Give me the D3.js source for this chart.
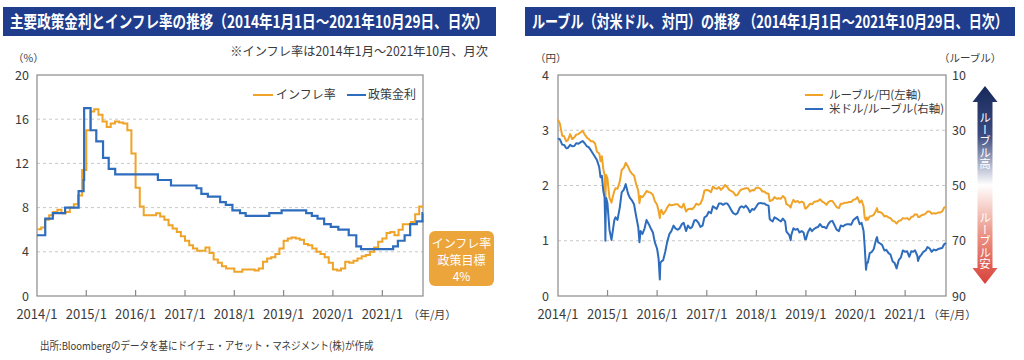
<!DOCTYPE html>
<html><head><meta charset="utf-8">
<script src="https://cdn.jsdelivr.net/npm/d3@7"></script>
<style>
html,body{margin:0;padding:0;background:#fff;}
svg{display:block;font-family:"Noto Sans CJK JP","Noto Sans",sans-serif;}
</style></head>
<body>
<svg id="c" width="1024" height="360"></svg>
<script>
// ---------- DATA ----------
const leftTitle = "主要政策金利とインフレ率の推移（2014年1月1日～2021年10月29日、日次）";
const rightTitle = "ルーブル（対米ドル、対円）の推移 （2014年1月1日～2021年10月29日、日次）";
const noteText = "※インフレ率は2014年1月～2021年10月、月次";
const sourceText = "出所:Bloombergのデータを基にドイチェ・アセット・マネジメント(株)が作成";
const yearTicks = ["2014/1","2015/1","2016/1","2017/1","2018/1","2019/1","2020/1","2021/1"];
const leftYTicks = [0,4,8,12,16,20];
const rubJpyTicks = [0,1,2,3,4];
const usdRubTicks = [10,30,50,70,90];
const startDate = "2014-01-01", endDate = "2021-10-29";

// Monthly CPI YoY (%) from 2014-01 to 2021-10
const inflation = [
 6.05,6.2,6.9,7.3,7.6,7.8,7.5,7.6,8.0,8.3,9.1,11.4,
 15.0,16.7,16.9,16.4,15.8,15.3,15.6,15.8,15.7,15.6,15.0,12.9,
 9.8,8.1,7.3,7.3,7.3,7.5,7.2,6.9,6.4,6.1,5.8,5.4,
 5.0,4.6,4.3,4.1,4.1,4.4,3.9,3.3,3.0,2.7,2.5,2.5,
 2.2,2.2,2.4,2.4,2.4,2.3,2.5,3.1,3.4,3.5,3.8,4.3,
 5.0,5.2,5.3,5.2,5.1,4.7,4.6,4.3,4.0,3.8,3.5,3.0,
 2.4,2.3,2.5,3.1,3.0,3.2,3.4,3.6,3.7,4.0,4.4,4.9,
 5.2,5.7,5.8,5.5,6.0,6.5,6.5,6.7,7.4,8.1
];
// Policy rate changes (date, %)
const rateDates = ["2014-01-01","2014-03-03","2014-04-28","2014-07-28","2014-11-05","2014-12-12","2014-12-16",
 "2015-02-02","2015-03-16","2015-05-05","2015-06-16","2015-08-03","2016-06-14","2016-09-19",
 "2017-03-27","2017-05-02","2017-06-19","2017-09-18","2017-10-30","2017-12-18","2018-02-12","2018-03-26",
 "2018-09-17","2018-12-17","2019-06-17","2019-07-29","2019-09-09","2019-10-28","2019-12-16",
 "2020-02-10","2020-04-27","2020-06-22","2020-07-27","2021-03-22","2021-04-26","2021-06-15",
 "2021-07-26","2021-09-13","2021-10-25","2021-10-29"];
const rateValues = [5.5,7.0,7.5,8.0,9.5,10.5,17.0,
 15.0,14.0,12.5,11.5,11.0,10.5,10.0,
 9.75,9.25,9.0,8.5,8.25,7.75,7.5,7.25,
 7.5,7.75,7.5,7.25,7.0,6.5,6.25,
 6.0,5.5,4.5,4.25,4.5,5.0,5.5,
 6.5,6.75,7.5,7.5];

// FX observation dates
const fxDates = [
"2014-01-01","2014-01-15","2014-02-01","2014-02-15","2014-03-03","2014-03-15","2014-04-01","2014-04-15","2014-05-01","2014-05-15","2014-06-01","2014-06-15","2014-07-01","2014-07-15","2014-08-01","2014-08-15","2014-09-01","2014-09-15","2014-10-01","2014-10-15","2014-11-01","2014-11-10","2014-11-20","2014-12-01","2014-12-10","2014-12-15","2014-12-16","2014-12-18","2014-12-22","2014-12-31",
"2015-01-15","2015-01-30","2015-02-10","2015-02-20","2015-03-01","2015-03-15","2015-04-01","2015-04-15","2015-05-01","2015-05-15","2015-06-01","2015-06-15","2015-07-01","2015-07-15","2015-08-01","2015-08-15","2015-08-24","2015-09-01","2015-09-15","2015-10-01","2015-10-15","2015-11-01","2015-11-15","2015-12-01","2015-12-15",
"2016-01-01","2016-01-12","2016-01-21","2016-01-25","2016-02-01","2016-02-15","2016-03-01","2016-03-15","2016-04-01","2016-04-15","2016-05-01","2016-05-15","2016-06-01","2016-06-15","2016-07-01","2016-07-15","2016-08-01","2016-08-15","2016-09-01","2016-09-15","2016-10-01","2016-10-15","2016-11-01","2016-11-15","2016-12-01","2016-12-15",
"2017-01-01","2017-01-15","2017-02-01","2017-02-15","2017-03-01","2017-03-15","2017-04-01","2017-04-15","2017-05-01","2017-05-15","2017-06-01","2017-06-15","2017-07-01","2017-07-15","2017-08-01","2017-08-15","2017-09-01","2017-09-15","2017-10-01","2017-10-15","2017-11-01","2017-11-15","2017-12-01","2017-12-15",
"2018-01-01","2018-01-15","2018-02-01","2018-02-15","2018-03-01","2018-03-15","2018-04-01","2018-04-09","2018-04-15","2018-05-01","2018-05-15","2018-06-01","2018-06-15","2018-07-01","2018-07-15","2018-08-01","2018-08-10","2018-08-15","2018-09-01","2018-09-11","2018-09-15","2018-10-01","2018-10-15","2018-11-01","2018-11-15","2018-12-01","2018-12-15","2018-12-26",
"2019-01-01","2019-01-15","2019-02-01","2019-02-15","2019-03-01","2019-03-15","2019-04-01","2019-04-15","2019-05-01","2019-05-15","2019-06-01","2019-06-15","2019-07-01","2019-07-15","2019-08-01","2019-08-15","2019-09-01","2019-09-15","2019-10-01","2019-10-15","2019-11-01","2019-11-15","2019-12-01","2019-12-15",
"2020-01-01","2020-01-15","2020-02-01","2020-02-15","2020-03-01","2020-03-09","2020-03-19","2020-03-25","2020-04-01","2020-04-15","2020-05-01","2020-05-15","2020-06-01","2020-06-08","2020-06-15","2020-07-01","2020-07-15","2020-08-01","2020-08-15","2020-09-01","2020-09-15","2020-10-01","2020-10-15","2020-10-30","2020-11-15","2020-12-01","2020-12-15",
"2021-01-01","2021-01-15","2021-02-01","2021-02-15","2021-03-01","2021-03-15","2021-04-01","2021-04-06","2021-04-15","2021-05-01","2021-05-15","2021-06-01","2021-06-15","2021-07-01","2021-07-15","2021-08-01","2021-08-15","2021-09-01","2021-09-15","2021-10-01","2021-10-15","2021-10-29"];
// Ruble/Yen (left axis)
const rubJpy = [
3.19,3.12,2.90,2.89,2.80,2.82,2.93,2.84,2.87,2.92,2.93,2.96,2.99,2.93,2.87,2.84,2.80,2.80,2.76,2.61,2.58,2.44,2.53,2.29,2.20,1.83,1.67,1.93,2.19,2.13,
1.78,1.69,1.81,1.90,1.95,1.94,2.07,2.28,2.32,2.41,2.34,2.26,2.21,2.18,2.01,1.91,1.68,1.81,1.79,1.84,1.90,1.88,1.87,1.83,1.72,
1.65,1.54,1.41,1.52,1.56,1.48,1.53,1.60,1.66,1.64,1.65,1.66,1.66,1.62,1.60,1.67,1.53,1.57,1.58,1.57,1.61,1.67,1.65,1.67,1.76,1.91,
1.92,1.91,1.88,1.98,1.95,1.94,1.97,1.92,1.96,2.01,1.97,1.92,1.90,1.88,1.82,1.83,1.90,1.93,1.94,1.95,1.95,1.89,1.92,1.91,
1.96,1.96,1.94,1.89,1.89,1.86,1.85,1.72,1.72,1.74,1.79,1.76,1.77,1.76,1.81,1.77,1.66,1.66,1.63,1.60,1.65,1.74,1.70,1.72,1.69,1.71,1.69,1.59,
1.58,1.62,1.67,1.66,1.70,1.71,1.72,1.75,1.71,1.69,1.65,1.70,1.72,1.72,1.66,1.61,1.59,1.67,1.67,1.69,1.69,1.70,1.70,1.74,
1.75,1.79,1.69,1.73,1.62,1.42,1.37,1.42,1.38,1.44,1.45,1.47,1.55,1.59,1.52,1.52,1.50,1.44,1.45,1.42,1.41,1.36,1.35,1.31,1.36,1.37,1.41,
1.40,1.41,1.38,1.43,1.44,1.48,1.47,1.43,1.43,1.46,1.47,1.49,1.53,1.53,1.49,1.50,1.49,1.51,1.51,1.53,1.60,1.62];
// US dollar/Ruble (right axis)
const usdRub = [
32.9,33.3,35.2,35.3,36.5,36.4,35.3,35.8,35.7,34.7,34.9,34.4,33.9,34.6,35.8,36.1,37.3,38.4,39.7,40.8,43.4,47.0,46.5,52.0,54.4,64.5,70.0,61.5,54.5,56.3,
66.0,69.7,66.0,62.5,61.5,62.5,58.0,52.5,51.5,49.5,53.0,54.5,55.5,56.8,61.5,65.0,70.5,66.5,67.5,65.5,62.5,64.0,65.5,67.0,70.5,
72.9,76.5,84.0,78.0,77.5,77.0,74.0,70.5,67.5,66.5,64.5,65.5,66.0,65.5,64.0,63.5,66.5,64.5,65.5,65.0,62.7,62.5,63.5,65.0,64.5,61.5,
61.0,59.5,60.0,57.5,58.0,58.5,56.5,56.5,57.0,56.5,56.5,57.5,59.0,60.0,60.5,60.0,58.0,57.5,58.0,57.3,58.3,59.7,58.5,58.8,
57.6,56.5,56.3,56.5,56.5,57.0,57.3,62.0,62.5,63.0,61.5,62.0,62.5,63.0,62.0,63.0,66.5,67.0,68.0,69.8,68.0,65.5,66.0,65.7,67.0,66.5,67.0,69.5,
69.5,67.0,65.5,66.5,65.8,65.3,65.0,64.0,65.0,65.0,65.5,64.0,63.0,62.8,64.5,66.0,66.5,64.5,64.8,64.3,64.0,64.0,64.2,62.6,
61.9,61.3,64.0,63.5,66.5,72.0,80.5,78.0,78.0,74.5,74.0,73.0,69.5,68.7,70.5,71.0,71.5,73.5,73.3,74.5,75.0,77.5,78.0,80.0,77.0,76.0,73.5,
74.0,73.8,75.8,73.8,74.0,73.5,75.5,77.3,76.0,75.0,74.0,73.5,72.3,72.8,74.0,73.2,73.5,73.0,72.8,72.6,71.3,70.8];

const seriesNames = ["インフレ率","政策金利","ルーブル/円(左軸)","米ドル/ルーブル(右軸)"];
const boxLines = ["インフレ率","政策目標","4%"];

// ---------- STYLE ----------
const ORANGE = "#f0a329", BLUE = "#2e6dbd", NAVY = "#1f3d8c", GRID = "#c8c8c8", AXIS = "#8a8a8a", TXT = "#3a3a3a";
const parse = d3.timeParse("%Y-%m-%d");
const svg = d3.select("#c");

function fitText(sel, x, w, anchor){
  const nat = sel.node().getComputedTextLength();
  const s = Math.min(1, w / nat);
  sel.attr("x", 0).attr("text-anchor", anchor || "start").attr("transform", `translate(${x},0) scale(${s},1)`);
}

// ---------- Title bars ----------
function titleBar(x, w, text){
  svg.append("rect").attr("x", x).attr("y", 7).attr("width", w).attr("height", 29).attr("fill", NAVY);
  const t = svg.append("text").attr("y", 28).attr("fill", "#fff")
    .attr("font-size", 17).attr("font-weight", 700).text(text);
  fitText(t, x + 7, w - 14);
}
titleBar(3, 493, leftTitle);
titleBar(525, 490, rightTitle);

fitText(svg.append("text").attr("y", 56).attr("font-size", 12.5).attr("fill", TXT).text(noteText), 488, 258, "end");
fitText(svg.append("text").attr("y", 350).attr("font-size", 11).attr("fill", TXT).text(sourceText), 40, 334);

const T = 75, B = 296;
const yearDates = yearTicks.map(s => { const [y, m] = s.split("/"); return new Date(+y, +m - 1, 1); });

function frame(g, x, y, L, R, yTicks, yfmtX){
  g.append("g").selectAll("line").data(yTicks.slice(1, -1)).join("line")
    .attr("x1", L).attr("x2", R).attr("y1", d => y(d)).attr("y2", d => y(d))
    .attr("stroke", GRID).attr("stroke-dasharray", "3,3").attr("stroke-width", 1);
  g.append("rect").attr("x", L).attr("y", T).attr("width", R - L).attr("height", B - T)
    .attr("fill", "none").attr("stroke", AXIS).attr("stroke-width", 1.2);
  g.append("g").selectAll("line").data(yearDates.slice(1)).join("line")
    .attr("x1", d => x(d)).attr("x2", d => x(d)).attr("y1", B).attr("y2", B - 6)
    .attr("stroke", AXIS).attr("stroke-width", 1.2);
  g.append("g").selectAll("text").data(yearDates).join("text")
    .attr("x", d => x(d)).attr("y", B + 23).attr("text-anchor", "middle")
    .attr("font-size", 13).attr("fill", TXT).text((d, i) => yearTicks[i]);
  g.append("g").selectAll("text").data(yTicks).join("text")
    .attr("x", yfmtX).attr("y", d => y(d) + 4.5).attr("text-anchor", "end")
    .attr("font-size", 12.5).attr("fill", TXT).text(d => d);
}

// ---------- LEFT CHART ----------
{
  const L = 37, R = 423;
  const x = d3.scaleTime().domain([parse(startDate), parse(endDate)]).range([L, R]);
  const y = d3.scaleLinear().domain([0, 20]).range([B, T]);
  const g = svg.append("g");
  frame(g, x, y, L, R, leftYTicks, 29);
  g.append("text").attr("x", 13).attr("y", 61.5).attr("font-size", 10.5).attr("fill", TXT).text("（%）");
  g.append("text").attr("x", 408).attr("y", 318.5).attr("font-size", 11).attr("fill", TXT).text("（年/月）");

  const infl = inflation.map((v, i) => ({ d: new Date(2014, i, 1), v }));
  infl.push({ d: parse(endDate), v: inflation[inflation.length - 1] });
  const rate = rateDates.map((s, i) => ({ d: parse(s), v: rateValues[i] }));
  const line = d3.line().x(p => x(p.d)).y(p => y(p.v)).curve(d3.curveStepAfter);
  g.append("path").datum(infl).attr("d", line).attr("fill", "none").attr("stroke", ORANGE).attr("stroke-width", 2);
  g.append("path").datum(rate).attr("d", line).attr("fill", "none").attr("stroke", BLUE).attr("stroke-width", 2.2);

  g.append("line").attr("x1", 253).attr("x2", 273).attr("y1", 95).attr("y2", 95).attr("stroke", ORANGE).attr("stroke-width", 2);
  g.append("text").attr("x", 276).attr("y", 99).attr("font-size", 12).attr("fill", TXT).text(seriesNames[0]);
  g.append("line").attr("x1", 347).attr("x2", 366).attr("y1", 95).attr("y2", 95).attr("stroke", BLUE).attr("stroke-width", 2);
  g.append("text").attr("x", 368).attr("y", 99).attr("font-size", 12).attr("fill", TXT).text(seriesNames[1]);

  g.append("rect").attr("x", 429).attr("y", 231).attr("width", 65).attr("height", 55).attr("rx", 6)
    .attr("fill", "#eca53b");
  g.selectAll(".bx").data(boxLines).join("text").attr("class", "bx")
    .attr("x", 461.5).attr("y", (d, i) => 248 + i * 16.5).attr("text-anchor", "middle")
    .attr("font-size", 12).attr("fill", "#fff").text(d => d);
}

// ---------- RIGHT CHART ----------
{
  const L = 558, R = 946;
  const x = d3.scaleTime().domain([parse(startDate), parse(endDate)]).range([L, R]);
  const y = d3.scaleLinear().domain([0, 4]).range([B, T]);
  const y2 = d3.scaleLinear().domain([10, 90]).range([T, B]);
  const g = svg.append("g");
  frame(g, x, y, L, R, rubJpyTicks, 549);
  g.append("g").selectAll("text").data(usdRubTicks).join("text")
    .attr("x", 952).attr("y", d => y2(d) + 4.5).attr("font-size", 12.5).attr("fill", TXT).text(d => d);
  g.append("text").attr("x", 535).attr("y", 61.5).attr("font-size", 10.5).attr("fill", TXT).text("（円）");
  g.append("text").attr("x", 939).attr("y", 61.5).attr("font-size", 10.5).attr("fill", TXT).text("（ルーブル）");
  g.append("text").attr("x", 928).attr("y", 318.5).attr("font-size", 11).attr("fill", TXT).text("（年/月）");

  const d1 = fxDates.map((s, i) => ({ d: parse(s), v: rubJpy[i] }));
  const d2 = fxDates.map((s, i) => ({ d: parse(s), v: usdRub[i] }));
  g.append("path").datum(d1).attr("d", d3.line().x(p => x(p.d)).y(p => y(p.v)))
    .attr("fill", "none").attr("stroke", ORANGE).attr("stroke-width", 2).attr("stroke-linejoin", "round");
  g.append("path").datum(d2).attr("d", d3.line().x(p => x(p.d)).y(p => y2(p.v)))
    .attr("fill", "none").attr("stroke", BLUE).attr("stroke-width", 2).attr("stroke-linejoin", "round");

  g.append("line").attr("x1", 805).attr("x2", 823).attr("y1", 95).attr("y2", 95).attr("stroke", ORANGE).attr("stroke-width", 2);
  g.append("text").attr("x", 829).attr("y", 99).attr("font-size", 11.5).attr("fill", TXT).text(seriesNames[2]);
  g.append("line").attr("x1", 805).attr("x2", 823).attr("y1", 109).attr("y2", 109).attr("stroke", BLUE).attr("stroke-width", 2);
  g.append("text").attr("x", 829).attr("y", 113).attr("font-size", 11.5).attr("fill", TXT).text(seriesNames[3]);

  const defs = svg.append("defs");
  const gr = defs.append("linearGradient").attr("id", "ag").attr("x1", 0).attr("y1", 0).attr("x2", 0).attr("y2", 1);
  gr.append("stop").attr("offset", "0%").attr("stop-color", "#16285a");
  gr.append("stop").attr("offset", "25%").attr("stop-color", "#3d4b80");
  gr.append("stop").attr("offset", "50%").attr("stop-color", "#ffffff");
  gr.append("stop").attr("offset", "75%").attr("stop-color", "#eb9486");
  gr.append("stop").attr("offset", "100%").attr("stop-color", "#d8413a");
  const cx = 985, top = 86, bot = 284, hh = 16, hw = 12.5, sw = 7.5;
  const pts = [[cx, top], [cx + hw, top + hh], [cx + sw, top + hh], [cx + sw, bot - hh], [cx + hw, bot - hh], [cx, bot],
    [cx - hw, bot - hh], [cx - sw, bot - hh], [cx - sw, top + hh], [cx - hw, top + hh]];
  g.append("path").attr("d", d3.line()(pts) + "Z").attr("fill", "url(#ag)");
  g.append("text").attr("x", cx).attr("y", 112).attr("font-size", 11.5).attr("fill", "#fff")
    .style("writing-mode", "vertical-rl").attr("text-anchor", "start").text("ルーブル高");
  g.append("text").attr("x", cx).attr("y", 212).attr("font-size", 11.5).attr("fill", "#fff")
    .style("writing-mode", "vertical-rl").attr("text-anchor", "start").text("ルーブル安");
}
</script>
</body></html>
